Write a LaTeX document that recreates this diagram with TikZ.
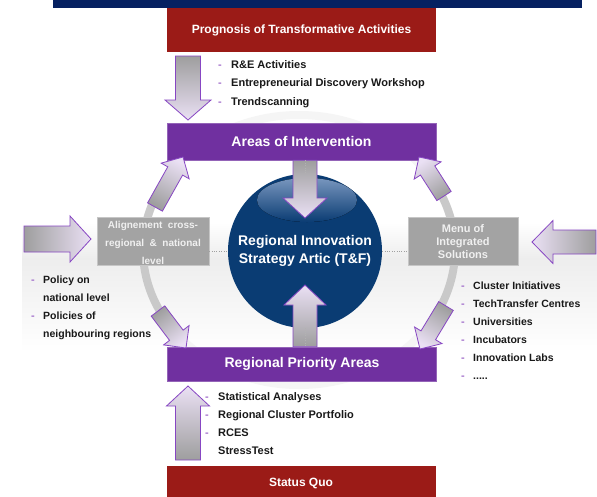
\documentclass[tikz,border=0pt]{standalone}
\usepackage{fontspec}
\setmainfont{Liberation Sans}
\usetikzlibrary{calc}
\definecolor{navybar}{RGB}{6,33,97}
\definecolor{boxred}{RGB}{155,27,23}
\definecolor{boxpurple}{RGB}{112,48,160}
\definecolor{boxgrey}{RGB}{163,163,163}
\definecolor{circblue}{RGB}{10,60,115}
\definecolor{glossblue}{RGB}{120,150,190}
\definecolor{arrgrey}{RGB}{158,158,158}
\definecolor{arrlav}{RGB}{234,224,244}
\definecolor{arrpurple}{RGB}{135,70,195}
\definecolor{dashc}{RGB}{165,115,205}
\definecolor{listc}{RGB}{25,25,25}
% block arrow: #1 tail, #2 tip, #3 half shaft, #4 half head, #5 head length, #6 shading angle
\newcommand{\blockarr}[6]{%
  \coordinate (ba-h) at ($(#2)!#5!(#1)$);
  \path[draw=arrpurple, line width=0.8pt, line join=miter,
        top color=arrgrey, bottom color=arrlav, shading angle=#6]
    ($(#1)!#3!90:(#2)$) -- ($(ba-h)!#3!90:(#2)$) -- ($(ba-h)!#4!90:(#2)$) -- (#2)
    -- ($(ba-h)!#4!-90:(#2)$) -- ($(ba-h)!#3!-90:(#2)$) -- ($(#1)!#3!-90:(#2)$) -- cycle;}
\begin{document}
\begin{tikzpicture}[x=1pt,y=-1pt,
  redbox/.style={fill=boxred, text=white, font=\fontsize{12}{14}\selectfont\bfseries,
                 minimum width=269pt, inner sep=0pt},
  purplebox/.style={fill=boxpurple, draw=boxpurple!75!white, line width=0.6pt, text=white,
                 font=\fontsize{14}{16}\selectfont\bfseries, minimum width=269pt, inner sep=0pt},
  greybox/.style={fill=boxgrey, draw=gray!45, line width=0.5pt, inner sep=0pt},
  greytxt/.style={text=white!94!black, anchor=base, inner sep=0pt},
  listtxt/.style={text=listc, font=\fontsize{11}{13}\selectfont\bfseries, anchor=base west, inner sep=0pt},
  sidetxt/.style={listtxt, font=\fontsize{10.5}{13}\selectfont\bfseries},
  dashtxt/.style={text=dashc, font=\fontsize{11}{13}\selectfont\bfseries, anchor=base west, inner sep=0pt},
  ctxt/.style={text=white, font=\fontsize{14}{16}\selectfont\bfseries, anchor=base, inner sep=0pt}
]
\useasboundingbox (0,0) rectangle (597,496);
\fill[white] (0,0) rectangle (597,496);

% background floor band
\fill[top color=white, bottom color=gray!14] (22,222) rectangle (597,258);
\fill[top color=gray!14, bottom color=white] (22,258) rectangle (597,352);

% top navy bar
\fill[navybar] (53,0) rectangle (582,8);

% ring
\coordinate (ringc) at (299,250);
\draw[gray!8, line width=8pt] (ringc) ellipse[x radius=156, y radius=135];
\draw[gray!42, line width=8pt] ([shift={(150:156 and 135)}]ringc) arc[start angle=150, end angle=203, x radius=156, y radius=135];
\draw[gray!42, line width=8pt] ([shift={(-27:156 and 135)}]ringc) arc[start angle=-27, end angle=27, x radius=156, y radius=135];

% boxes
\node[redbox, minimum height=44pt] (prog) at (301.5,30) {Prognosis of Transformative Activities};
\node[purplebox, minimum height=37pt] (areas) at (301.5,141.5) {Areas of Intervention};
\node[purplebox, minimum height=34pt] (prio) at (302,364) {Regional Priority Areas};
\node[redbox, minimum height=34pt] (sq) at (301,483) {Status Quo};
\node[greybox, minimum width=112pt, minimum height=48pt] (lbox) at (153,241) {};
\node[greybox, minimum width=110pt, minimum height=48pt] (rbox) at (463,241) {};

% circle
\node[circle, fill=circblue, minimum size=154pt, inner sep=0pt] (circ) at (305,251) {};
\draw[dotted, gray!75] (lbox.east |- circ.center) -- (circ.west);
\draw[dotted, gray!75] (circ.east) -- (rbox.west |- circ.center);
\fill[top color=glossblue, bottom color=circblue] (307,200) ellipse[x radius=50, y radius=22];

% grey box texts
\node[greytxt, font=\fontsize{10}{12}\selectfont\bfseries] (lb1) at (153,228) {Alignement\ \ cross-};
\node[greytxt, font=\fontsize{10}{12}\selectfont\bfseries] (lb2) at (153,246) {regional \ \& \ national};
\node[greytxt, font=\fontsize{10}{12}\selectfont\bfseries] (lb3) at (153,264) {level};
\node[greytxt, font=\fontsize{11}{13}\selectfont\bfseries] (rb1) at (463,232) {Menu of};
\node[greytxt, font=\fontsize{11}{13}\selectfont\bfseries] (rb2) at (463,245) {Integrated};
\node[greytxt, font=\fontsize{11}{13}\selectfont\bfseries] (rb3) at (463,258) {Solutions};

% arrows
\coordinate (a1t) at (188,56);   \coordinate (a1h) at (188,120);
\blockarr{a1t}{a1h}{12.5pt}{23pt}{20pt}{0}
\coordinate (a2t) at (188,460);  \coordinate (a2h) at (188,386);
\blockarr{a2t}{a2h}{12.5pt}{21.5pt}{20pt}{180}
\coordinate (c1t) at (circ.center |- areas.south); \coordinate (c1h) at (305,218);
\blockarr{c1t}{c1h}{12pt}{22pt}{20pt}{0}
\coordinate (c2t) at (circ.center |- prio.north); \coordinate (c2h) at (305,285);
\blockarr{c2t}{c2h}{12pt}{21pt}{20pt}{180}
\coordinate (lat) at (24,239);   \coordinate (lah) at (91,239);
\blockarr{lat}{lah}{13pt}{23pt}{21pt}{90}
\coordinate (rat) at (596,242);  \coordinate (rah) at (532,242);
\blockarr{rat}{rah}{12pt}{21.5pt}{21pt}{270}
\coordinate (ult) at (155,207);  \coordinate (ulh) at (183,157);
\blockarr{ult}{ulh}{8.5pt}{16pt}{16pt}{150.8}
\coordinate (urt) at (444,196);  \coordinate (urh) at (419,157);
\blockarr{urt}{urh}{8.5pt}{16pt}{16pt}{212.7}
\coordinate (llt) at (158,311);  \coordinate (llh) at (186,348);
\blockarr{llt}{llh}{8.5pt}{16pt}{16pt}{37.1}
\coordinate (lrt) at (446,306);  \coordinate (lrh) at (420,349);
\blockarr{lrt}{lrh}{8.5pt}{16pt}{16pt}{-31.2}

% dotted axis in the shafts
\draw[dotted, gray!60] (c1t) -- (circ.north);
\draw[dotted, gray!60] (circ.south) -- (c2t);

% circle text
\node[ctxt] (ct1) at (305,245) {Regional Innovation};
\node[ctxt] (ct2) at (305,263) {Strategy Artic (T\&F)};

% top list
\node[dashtxt] (td1) at (218,68) {-};
\node[listtxt] (tl1) at (231,68) {R\&E Activities};
\node[dashtxt] (td2) at (218,86.5) {-};
\node[listtxt] (tl2) at (231,86.5) {Entrepreneurial Discovery Workshop};
\node[dashtxt] (td3) at (218,105) {-};
\node[listtxt] (tl3) at (231,105) {Trendscanning};

% bottom list
\node[dashtxt] (bd1) at (205,400) {-};
\node[listtxt] (bl1) at (218,400) {Statistical Analyses};
\node[dashtxt] (bd2) at (205,418) {-};
\node[listtxt] (bl2) at (218,418) {Regional Cluster Portfolio};
\node[dashtxt] (bd3) at (205,436) {-};
\node[listtxt] (bl3) at (218,436) {RCES};
\node[listtxt] (bl4) at (218,454) {StressTest};

% left list
\node[dashtxt] (ld1) at (31,283) {-};
\node[sidetxt] (ll1) at (43,283) {Policy on};
\node[sidetxt] (ll2) at (43,301) {national level};
\node[dashtxt] (ld3) at (31,319) {-};
\node[sidetxt] (ll3) at (43,319) {Policies of};
\node[sidetxt] (ll4) at (43,337) {neighbouring regions};

% right list
\node[dashtxt] (rd1) at (461,289) {-};
\node[sidetxt] (rl1) at (473,289) {Cluster Initiatives};
\node[dashtxt] (rd2) at (461,307) {-};
\node[sidetxt] (rl2) at (473,307) {TechTransfer Centres};
\node[dashtxt] (rd3) at (461,325) {-};
\node[sidetxt] (rl3) at (473,325) {Universities};
\node[dashtxt] (rd4) at (461,343) {-};
\node[sidetxt] (rl4) at (473,343) {Incubators};
\node[dashtxt] (rd5) at (461,361) {-};
\node[sidetxt] (rl5) at (473,361) {Innovation Labs};
\node[dashtxt] (rd6) at (461,379) {-};
\node[sidetxt] (rl6) at (473,379) {.....};
\end{tikzpicture}
\end{document}
